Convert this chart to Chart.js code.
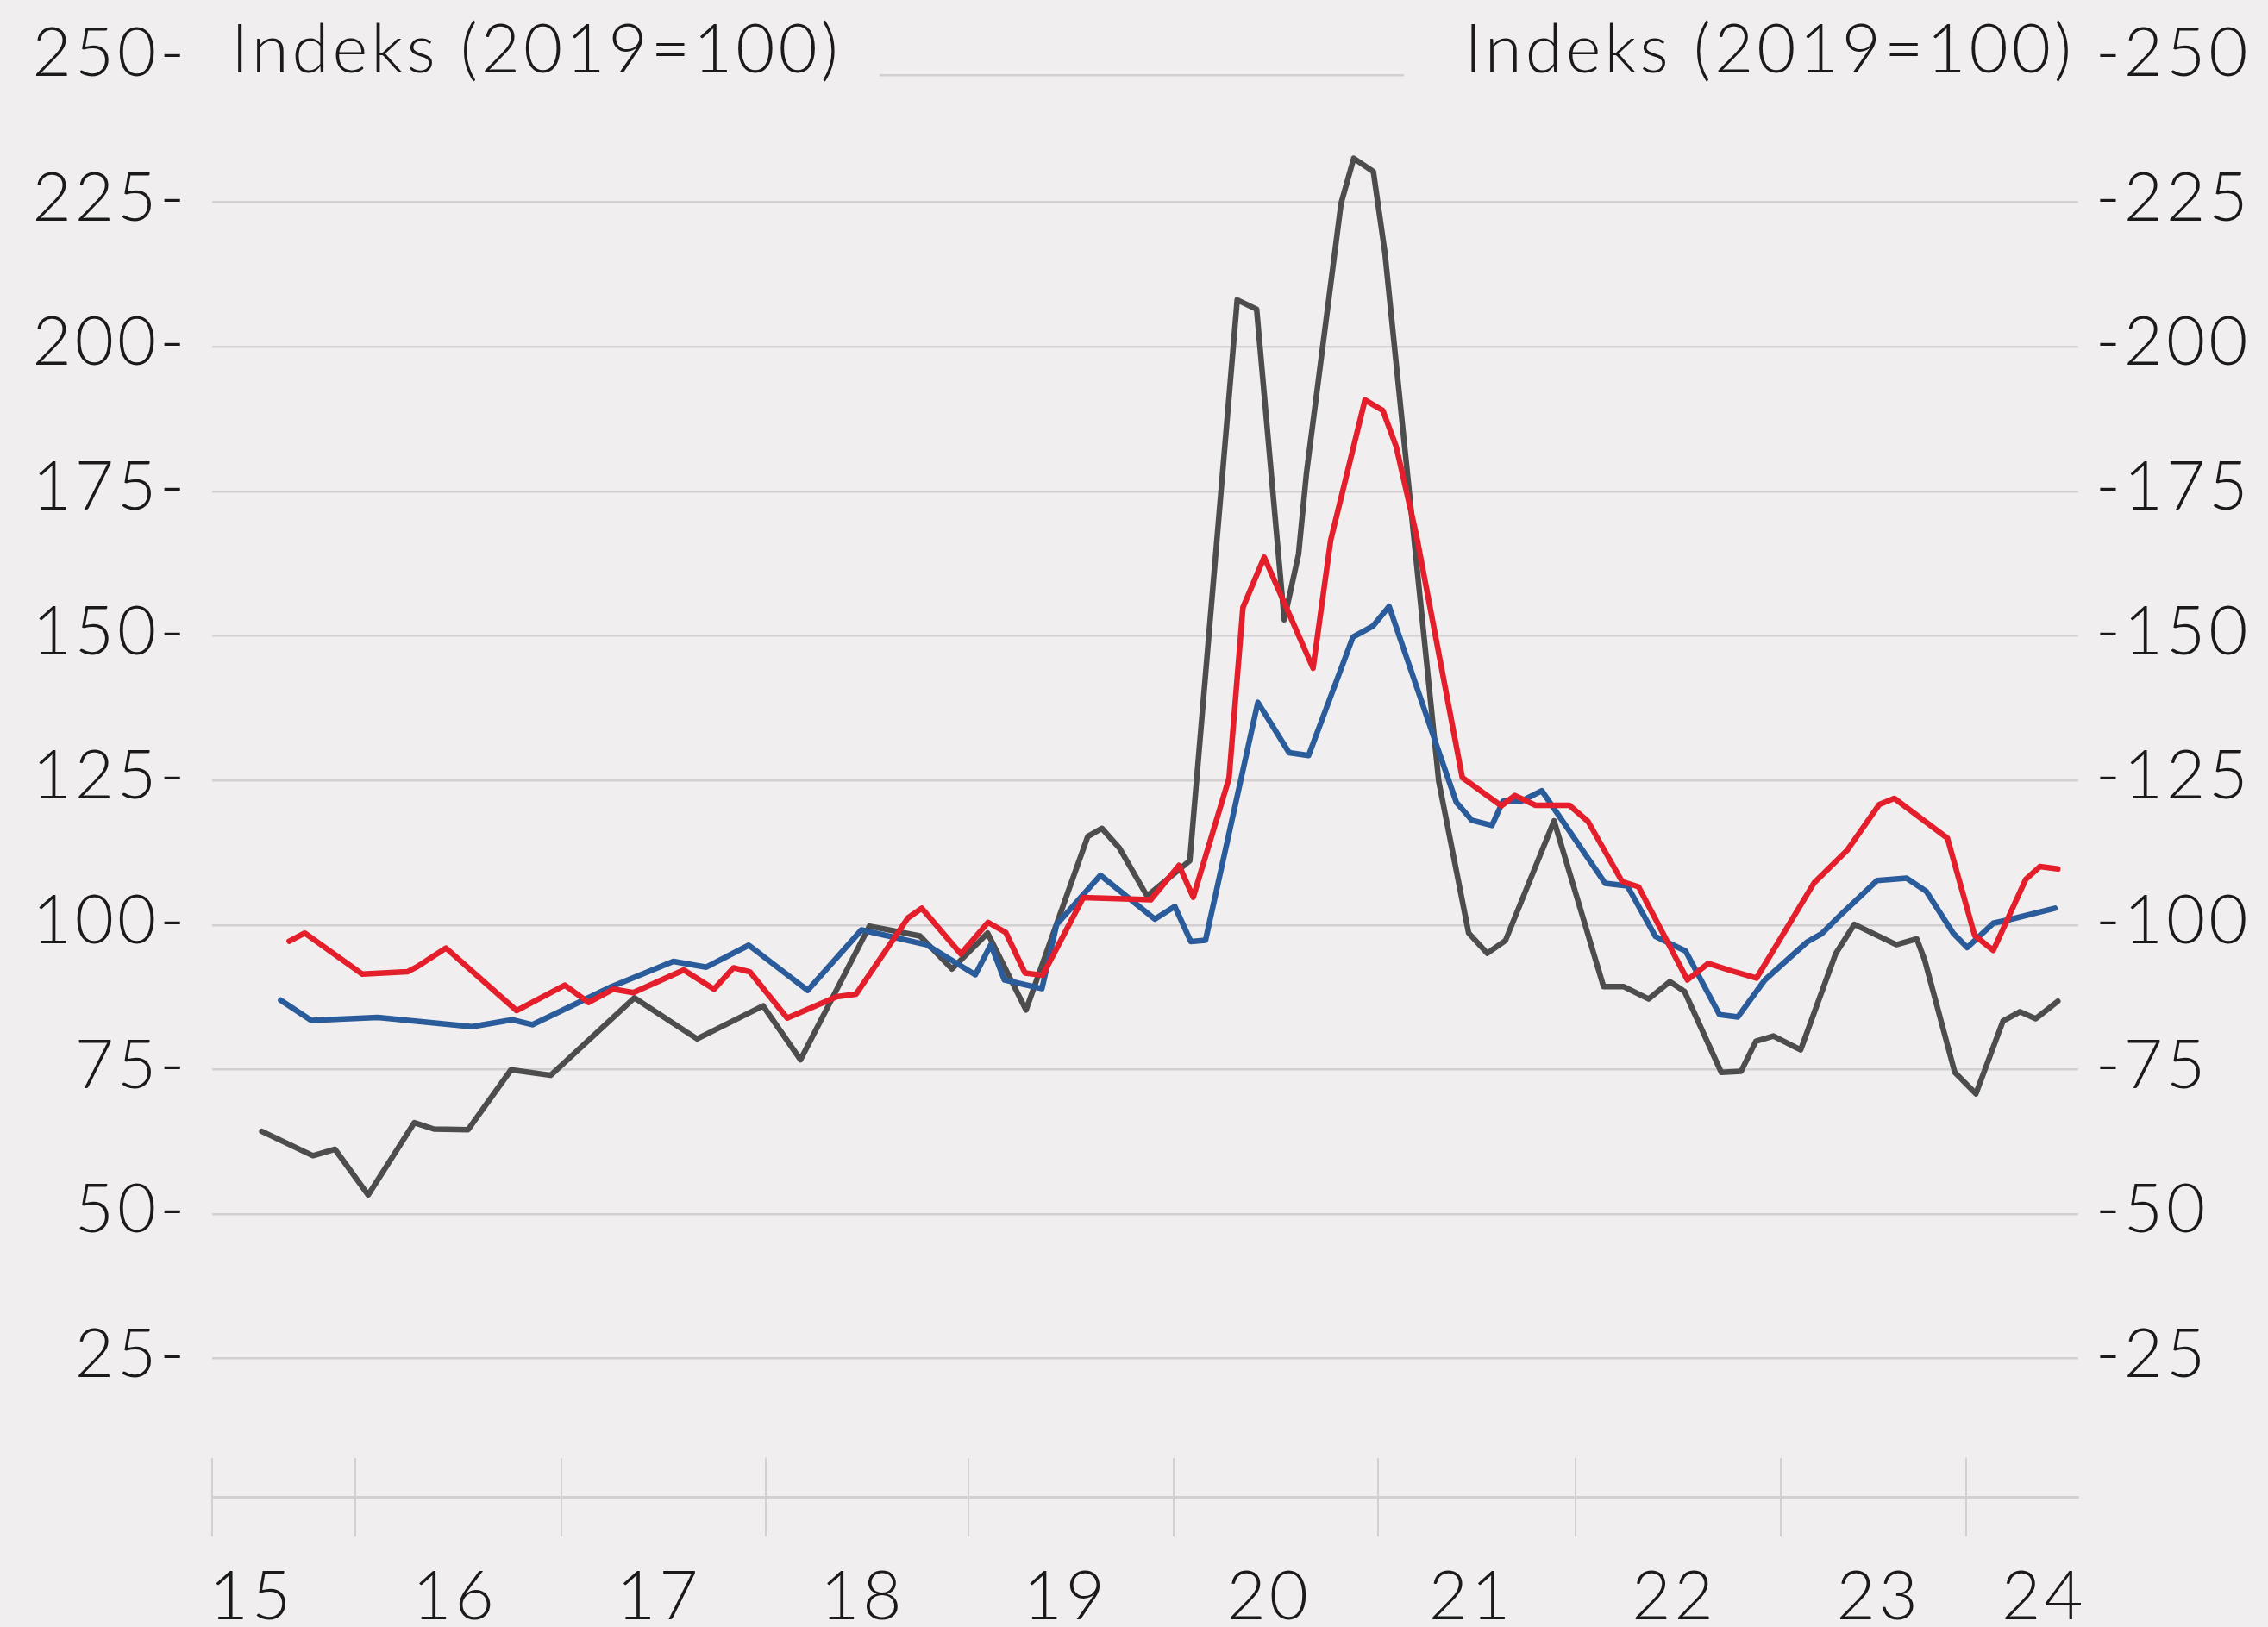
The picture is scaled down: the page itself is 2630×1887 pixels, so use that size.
<!DOCTYPE html>
<html>
<head>
<meta charset="utf-8">
<script src="https://cdn.jsdelivr.net/npm/chart.js@4.4.1/dist/chart.umd.min.js"></script>
<style>
html,body{margin:0;padding:0;background:#F0EEEF;}
canvas{display:block;}
</style>
</head>
<body>
<canvas id="c" width="2630" height="1887"></canvas>
<script>
// ---- data (time in fractional years, index 2019=100) ----
const greyDates = [2015.545,2015.795,2015.903,2016.065,2016.291,2016.387,2016.554,2016.764,2016.958,2017.367,2017.674,2017.997,2018.180,2018.517,2018.764,2018.921,2019.095,2019.283,2019.585,2019.654,2019.740,2019.875,2020.084,2020.316,2020.411,2020.546,2020.616,2020.655,2020.824,2020.886,2020.982,2021.038,2021.302,2021.448,2021.539,2021.628,2021.866,2022.108,2022.205,2022.329,2022.432,2022.504,2022.684,2022.781,2022.853,2022.939,2023.072,2023.244,2023.335,2023.540,2023.640,2023.679,2023.826,2023.929,2024.062,2024.145,2024.222,2024.330];
const greyValues = [64.3,60.1,61.2,53.3,65.8,64.7,64.6,74.95,74.0,87.4,80.3,86.0,76.7,99.8,98.1,92.4,98.6,85.3,115.3,116.7,113.3,105.0,111.1,208.1,206.5,152.8,164.1,178.2,224.8,232.6,230.3,216.4,124.8,98.6,95.1,97.3,118.0,89.35,89.35,87.2,90.2,88.5,74.5,74.7,79.9,80.8,78.4,95.1,100.1,96.6,97.6,93.9,74.5,70.8,83.4,85.0,83.8,86.8];

const redDates = [2015.679,2015.755,2016.037,2016.257,2016.301,2016.446,2016.791,2017.027,2017.143,2017.265,2017.362,2017.609,2017.757,2017.852,2017.932,2018.115,2018.357,2018.452,2018.705,2018.773,2018.964,2019.097,2019.184,2019.278,2019.364,2019.563,2019.893,2020.031,2020.101,2020.276,2020.344,2020.448,2020.687,2020.773,2020.941,2021.028,2021.094,2021.192,2021.417,2021.608,2021.674,2021.775,2021.941,2022.032,2022.199,2022.279,2022.518,2022.620,2022.731,2022.856,2023.138,2023.299,2023.457,2023.530,2023.790,2023.923,2024.014,2024.173,2024.242,2024.330];
const redValues = [97.2,98.6,91.5,91.9,92.7,96.0,85.2,89.6,86.6,88.9,88.3,92.2,88.9,92.6,91.9,83.9,87.6,88.05,101.2,102.9,95.0,100.45,98.7,91.7,91.3,104.75,104.35,110.3,104.8,125.4,154.9,163.6,144.4,166.5,190.8,189.0,182.7,167.5,125.5,120.6,122.4,120.7,120.7,117.9,107.5,106.6,90.5,93.35,92.1,90.8,107.3,112.9,120.85,121.9,115.0,98.2,95.6,107.9,110.1,109.7];

const blueDates = [2015.637,2015.787,2016.112,2016.573,2016.769,2016.868,2017.254,2017.558,2017.719,2017.927,2018.215,2018.478,2018.795,2019.035,2019.111,2019.177,2019.361,2019.433,2019.647,2019.913,2020.011,2020.089,2020.161,2020.417,2020.570,2020.665,2020.882,2020.980,2021.059,2021.294,2021.388,2021.464,2021.562,2021.616,2021.705,2021.806,2022.116,2022.224,2022.362,2022.509,2022.675,2022.765,2022.897,2023.105,2023.175,2023.272,2023.446,2023.590,2023.687,2023.818,2023.887,2024.014,2024.090,2024.316];
const blueValues = [87.0,83.5,84.0,82.4,83.6,82.75,89.3,93.7,92.7,96.5,88.7,99.15,96.6,91.4,96.6,90.5,89.0,100.1,108.6,101.0,103.2,97.15,97.35,138.5,129.8,129.3,149.8,151.7,155.1,130.8,121.2,118.1,117.2,121.4,121.4,123.2,107.2,106.75,98.0,95.5,84.5,84.1,90.5,97.1,98.5,101.9,107.7,108.1,105.8,98.6,96.1,100.3,100.9,102.9];

// ---- axis labels ----
const yearLabels = ['15','16','17','18','19','20','21','22','23','24'];
const yearLabelAt = [2015.496,2016.489,2017.488,2018.484,2019.477,2020.472,2021.460,2022.454,2023.454,2024.262];
const yearBoundaries = [2015.303,2016.003,2017.011,2018.012,2019.003,2020.004,2021.003,2021.969,2022.975,2023.882];
const yTickValues = [25,50,75,100,125,150,175,200,225,250];
const titleText = 'Indeks (2019=100)';

// ---- ranges ----
const X_MIN = 2015.302, X_MAX = 2024.430;
const Y_MIN = 1.1, Y_MAX = 247.0;
const TICK_TOP = 7.84;

// ---- styles ----
const BG = '#F0EEEF', GRID = '#D2D0D1', TEXT = '#1A1A1A';
const GREY = '#4D4D4D', RED = '#E41E2B', BLUE = '#2A5B9A';
const FONT = {family: "Lato, 'Open Sans', sans-serif", size: 78, weight: 300};
const SPACING = '4px';

function pts(d, v) { return d.map((x, i) => ({x: x, y: v[i]})); }
function lineDs(label, d, v, color) {
  return {label: label, data: pts(d, v), borderColor: color, backgroundColor: color,
    borderWidth: 6.5, pointRadius: 0, tension: 0, fill: false,
    borderJoinStyle: 'round', borderCapStyle: 'round', xAxisID: 'x', yAxisID: 'y'};
}

const spacingPlugin = {
  id: 'spacing',
  beforeDraw(chart) { chart.ctx.letterSpacing = SPACING; }
};

const headerPlugin = {
  id: 'header',
  afterDraw(chart) {
    const {ctx, chartArea, scales} = chart;
    const y = scales.y.getPixelForValue(250) - 8;
    ctx.save();
    ctx.letterSpacing = SPACING;
    ctx.font = "300 78px Lato, 'Open Sans', sans-serif";
    ctx.textBaseline = 'middle';
    ctx.textAlign = 'left';
    const w = ctx.measureText(titleText).width;
    const xL = chartArea.left + 22;
    const xR = chartArea.right - 4 - w;
    ctx.fillStyle = BG;
    ctx.fillRect(chartArea.left - 2, chartArea.top - 5, (xL + w + 44) - (chartArea.left - 2), 10);
    ctx.fillRect(xR - 70, chartArea.top - 5, chartArea.right + 2 - (xR - 70), 10);
    ctx.fillStyle = TEXT;
    ctx.fillText(titleText, xL, y);
    ctx.fillText(titleText, xR, y);
    ctx.restore();
  }
};

new Chart(document.getElementById('c'), {
  type: 'line',
  data: {
    datasets: [
      lineDs('Rød', redDates, redValues, RED),
      lineDs('Blå', blueDates, blueValues, BLUE),
      lineDs('Grå', greyDates, greyValues, GREY)
    ]
  },
  options: {
    responsive: false,
    animation: false,
    devicePixelRatio: 1,
    layout: {padding: {top: 87, left: 0, right: 0, bottom: 0}},
    plugins: {legend: {display: false}, tooltip: {enabled: false}, title: {display: false}},
    scales: {
      x: {
        type: 'linear', axis: 'x', position: 'bottom', min: X_MIN, max: X_MAX,
        afterBuildTicks: s => { s.ticks = yearLabelAt.map(v => ({value: v})); },
        afterFit: s => { s.height = 151; },
        ticks: {autoSkip: false, maxRotation: 0, minRotation: 0, padding: 70, font: FONT, color: TEXT,
          callback: (v, i) => yearLabels[i]},
        grid: {display: false, drawTicks: false},
        border: {display: true, color: GRID, width: 3}
      },
      xTicks: {
        type: 'linear', axis: 'x', position: {y: TICK_TOP}, min: X_MIN, max: X_MAX,
        afterBuildTicks: s => { s.ticks = yearBoundaries.map(v => ({value: v})); },
        ticks: {display: false},
        grid: {display: true, drawOnChartArea: false, drawTicks: true, tickLength: 91, color: GRID, lineWidth: 2},
        border: {display: false}
      },
      y: {
        type: 'linear', axis: 'y', position: 'left', min: Y_MIN, max: Y_MAX,
        afterBuildTicks: s => {
          const below = yTickValues.filter(v => v < Y_MAX);
          const above = yTickValues.filter(v => v > Y_MAX);
          s.ticks = below.concat([Y_MAX], above).map(v => ({value: v}));
        },
        afterFit: s => { s.width = 246; },
        ticks: {autoSkip: false, padding: 28, labelOffset: -4, font: FONT, color: TEXT,
          callback: v => yTickValues.includes(v) ? v + '-' : ''},
        grid: {color: c => (c.tick && c.tick.value > Y_MAX) ? 'rgba(0,0,0,0)' : GRID, lineWidth: 2.5, drawTicks: false},
        border: {display: false}
      },
      y2: {
        type: 'linear', axis: 'y', position: 'right', min: Y_MIN, max: Y_MAX,
        afterBuildTicks: s => { s.ticks = yTickValues.map(v => ({value: v})); },
        afterFit: s => { s.width = 220; },
        ticks: {autoSkip: false, padding: 20, labelOffset: -4, font: FONT, color: TEXT,
          callback: v => '-' + v},
        grid: {display: false, drawTicks: false},
        border: {display: false}
      }
    }
  },
  plugins: [spacingPlugin, headerPlugin]
});
</script>
</body>
</html>
